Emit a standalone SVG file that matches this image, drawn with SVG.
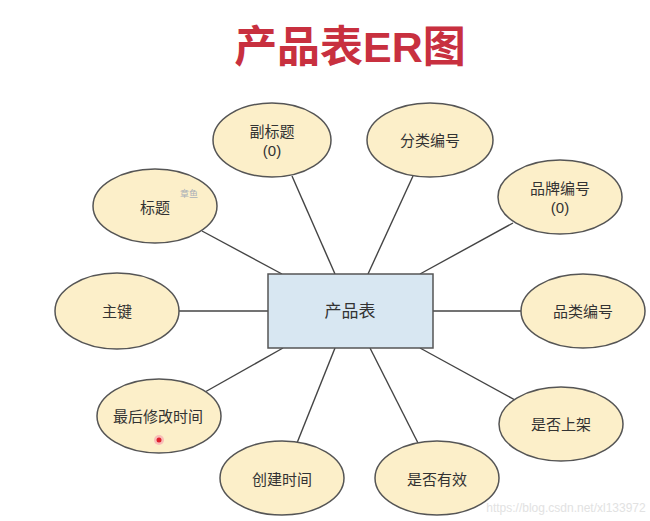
<svg xmlns="http://www.w3.org/2000/svg" width="650" height="521" viewBox="0 0 650 521">
<style>
.attr ellipse{fill:#fcefc9;stroke:#555;stroke-width:1.5}
.ent rect{fill:#d8e7f2;stroke:#555;stroke-width:1.5}
text{font-family:"Liberation Sans","Noto Sans CJK SC",sans-serif;fill:#333;text-anchor:middle;dominant-baseline:central}
.lbl{font-size:15px}
#edges line{stroke:#444;stroke-width:1.4}
</style>
<rect width="650" height="521" fill="#fff"/>
<text x="350" y="47" style="font-size:43px;font-weight:bold;fill:#c8303f">产品表ER图</text>
<g id="edges">
<line x1="292" y1="176" x2="335" y2="274"/>
<line x1="413" y1="176" x2="368" y2="274"/>
<line x1="202" y1="231" x2="282" y2="274"/>
<line x1="513" y1="223" x2="420" y2="274"/>
<line x1="433" y1="311" x2="521" y2="311"/>
<line x1="179" y1="311" x2="268" y2="311"/>
<line x1="205" y1="392" x2="283" y2="348"/>
<line x1="297" y1="443" x2="335" y2="348"/>
<line x1="418" y1="443" x2="370" y2="348"/>
<line x1="515" y1="400" x2="420" y2="348"/>
</g>
<g id="entity" class="ent"><rect x="268" y="274" width="165" height="74"/><text x="350" y="311" style="font-size:17px">产品表</text></g>
<g id="subtitle" class="attr"><ellipse cx="272" cy="140" rx="59" ry="37"/><text class="lbl" x="272" y="131">副标题</text><text class="lbl" x="272" y="150">(0)</text></g>
<g id="category" class="attr"><ellipse cx="430" cy="140" rx="63" ry="37"/><text class="lbl" x="430" y="140">分类编号</text></g>
<g id="title" class="attr"><ellipse cx="155" cy="206" rx="62" ry="37"/><text class="lbl" x="155" y="207">标题</text><text x="189" y="194" style="font-size:9px;fill:#aab0b8">章鱼</text></g>
<g id="brand" class="attr"><ellipse cx="560" cy="197" rx="62" ry="37"/><text class="lbl" x="560" y="188">品牌编号</text><text class="lbl" x="560" y="207">(0)</text></g>
<g id="pk" class="attr"><ellipse cx="117" cy="311" rx="62" ry="38"/><text class="lbl" x="117" y="311">主键</text></g>
<g id="kind" class="attr"><ellipse cx="583" cy="311" rx="62" ry="37"/><text class="lbl" x="583" y="311">品类编号</text></g>
<g id="modified" class="attr"><ellipse cx="159" cy="416" rx="62" ry="37"/><text class="lbl" x="158" y="416">最后修改时间</text></g>
<g id="onsale" class="attr"><ellipse cx="561" cy="424" rx="62" ry="37"/><text class="lbl" x="561" y="424">是否上架</text></g>
<g id="created" class="attr"><ellipse cx="282" cy="478" rx="62" ry="37"/><text class="lbl" x="282" y="479">创建时间</text></g>
<g id="valid" class="attr"><ellipse cx="437" cy="478" rx="62" ry="37"/><text class="lbl" x="437" y="479">是否有效</text></g>
<circle cx="159" cy="440" r="5" fill="#f7a8b0" opacity="0.7"/>
<circle cx="159" cy="440" r="2.5" fill="#e0202e"/>
<text x="566" y="508" style="font-size:12px;fill:#e2e2e2">https://blog.csdn.net/xl133972</text>
</svg>
